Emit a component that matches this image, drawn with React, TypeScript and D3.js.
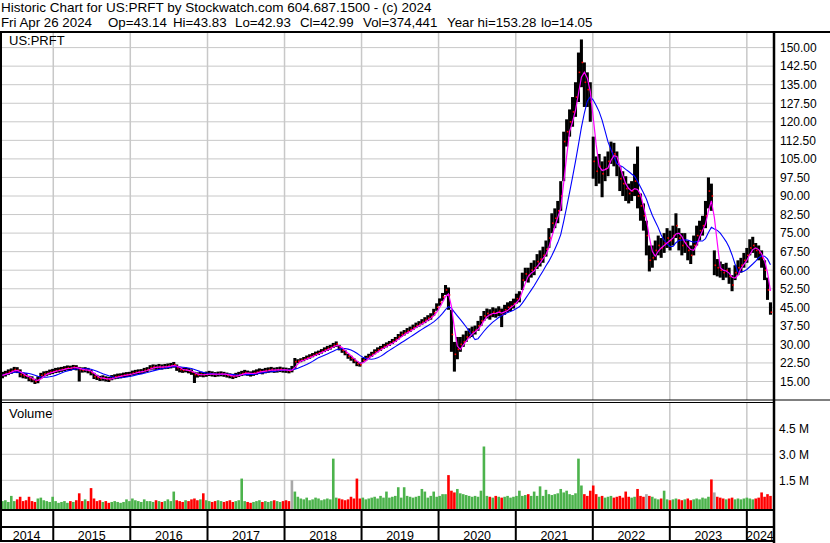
import React from 'react';
import * as d3 from 'd3';

// ---------- DATA (bi-weekly bars) ----------
const priceTicks = [15, 22.5, 30, 37.5, 45, 52.5, 60, 67.5, 75, 82.5, 90, 97.5, 105, 112.5, 120, 127.5, 135, 142.5, 150];
const volTicks = [1.5, 3.0, 4.5];
const years = [2014, 2015, 2016, 2017, 2018, 2019, 2020, 2021, 2022, 2023, 2024];

const closes = [
  17.5, 18.2, 18.8, 19.2, 19.8, 19.5, 17.8, 17.4, 17.2, 16.2,
  15.8, 15.0, 15.6, 17.4, 18.0, 18.3, 18.8, 19.0, 19.4, 19.6,
  19.9, 20.2, 20.5, 20.4, 20.8, 20.6, 19.8, 19.6, 19.8, 19.4,
  18.6, 17.0, 16.6, 16.2, 16.4, 16.0, 15.8, 16.5, 16.9, 17.1,
  17.3, 17.6, 17.8, 17.9, 18.4, 18.7, 18.9, 19.0, 19.5, 19.8,
  20.5, 20.9, 20.7, 21.0, 20.8, 21.0, 21.2, 21.4, 21.8, 20.6,
  19.8, 19.5, 19.7, 19.3, 18.8, 17.8, 17.6, 17.9, 17.7, 17.9,
  18.2, 18.0, 17.8, 18.0, 18.1, 17.9, 17.6, 17.3, 17.0, 17.4,
  17.8, 18.2, 18.6, 18.3, 18.0, 18.4, 18.8, 19.2, 19.0, 19.4,
  19.6, 19.8, 19.5, 19.7, 19.9, 19.6, 19.5, 19.3, 19.8, 23.0,
  23.2, 23.6, 24.0, 24.6, 25.1, 25.6, 26.2, 26.6, 27.2, 27.8,
  28.4, 28.8, 29.6, 30.2, 28.6, 27.6, 26.6, 25.2, 24.4, 23.4,
  22.2, 21.8, 23.6, 24.4, 25.2, 26.0, 27.0, 27.8, 28.4, 29.2,
  29.8, 30.4, 31.2, 32.0, 33.0, 34.0, 34.6, 35.4, 36.0, 36.8,
  37.6, 38.2, 39.0, 39.8, 40.6, 41.2, 42.8, 45.0, 47.0, 49.2,
  52.0, 50.0, 34.0, 26.0, 28.0, 30.0, 31.0, 33.0, 34.5, 35.0,
  35.8, 37.5, 39.5, 41.5, 42.5, 42.0, 43.0, 42.6, 43.4, 42.0,
  44.0, 45.0, 45.5, 46.5, 48.5, 49.5, 56.0, 58.5, 58.0, 60.0,
  61.0, 63.5, 64.5, 66.0, 68.5, 73.0, 79.0, 81.0, 84.0, 90.0,
  112.0, 116.0, 120.0, 124.0, 130.0, 140.0, 144.0, 136.0, 133.0, 128.0,
  104.0, 100.0, 102.0, 99.0, 101.0, 104.0, 108.0, 107.0, 103.0, 97.0,
  95.0, 93.0, 91.0, 92.0, 96.0, 90.0, 86.0, 82.0, 74.0, 64.0,
  65.0, 68.0, 70.0, 69.0, 71.0, 73.0, 72.0, 74.0, 78.0, 73.0,
  70.0, 71.0, 68.0, 66.0, 70.0, 74.0, 76.0, 78.0, 82.0, 92.0,
  90.0, 62.0, 61.0, 60.0, 59.0, 60.0, 57.5, 54.0, 59.0, 61.0,
  62.0, 64.0, 66.0, 69.0, 70.0, 68.0, 67.0, 65.0, 60.0, 52.0, 43.0,
];

const lows = [
  16.3, 17.0, 17.6, 18.1, 18.7, 18.4, 16.7, 16.3, 16.1, 15.1,
  14.7, 14.0, 14.3, 16.1, 16.9, 17.3, 17.7, 18.0, 18.4, 18.6,
  18.9, 19.2, 19.5, 19.4, 19.7, 19.5, 15.0, 18.6, 18.7, 18.3,
  17.5, 16.0, 15.6, 15.2, 15.3, 15.0, 14.8, 15.5, 15.9, 16.1,
  16.3, 16.6, 16.8, 16.9, 17.4, 17.7, 17.9, 18.0, 18.5, 18.8,
  19.5, 19.8, 19.7, 19.9, 19.8, 20.0, 20.1, 20.3, 20.6, 19.3,
  18.7, 18.5, 18.7, 18.3, 17.7, 14.4, 16.6, 16.9, 16.7, 16.9,
  17.2, 17.0, 16.8, 17.0, 17.1, 16.9, 16.6, 16.3, 16.0, 16.4,
  16.8, 17.2, 17.5, 17.3, 17.0, 17.3, 17.7, 18.1, 17.9, 18.3,
  18.5, 18.7, 18.5, 18.6, 18.8, 18.6, 18.5, 18.3, 18.7, 20.2,
  22.4, 22.8, 23.2, 23.8, 24.2, 24.8, 25.3, 25.7, 26.3, 26.9,
  27.4, 27.9, 28.6, 29.0, 27.6, 26.6, 25.6, 24.2, 23.4, 22.4,
  21.2, 21.0, 22.6, 23.4, 24.2, 25.0, 26.0, 26.8, 27.4, 28.2,
  28.8, 29.4, 30.2, 31.0, 32.0, 33.0, 33.6, 34.4, 35.0, 35.8,
  36.6, 37.2, 38.0, 38.6, 39.4, 40.0, 41.6, 43.6, 45.6, 47.6,
  50.0, 44.0, 27.0, 19.0, 24.0, 27.0, 29.0, 31.0, 32.5, 33.0,
  34.0, 35.5, 37.5, 39.5, 40.5, 40.0, 41.0, 40.8, 41.4, 37.0,
  42.0, 43.0, 43.5, 44.5, 46.5, 47.0, 52.0, 55.5, 55.0, 57.0,
  58.0, 60.5, 61.5, 63.0, 65.5, 69.0, 75.0, 77.0, 79.0, 84.0,
  96.0, 110.0, 114.0, 118.0, 122.0, 128.0, 134.0, 126.0, 126.0, 120.0,
  97.0, 94.0, 95.0, 89.5, 96.0, 98.0, 103.0, 102.0, 98.0, 92.0,
  90.0, 88.0, 87.0, 88.0, 90.0, 85.0, 80.0, 76.0, 66.0, 59.5,
  61.0, 64.0, 66.0, 65.0, 67.0, 69.0, 68.0, 70.0, 73.0, 68.0,
  66.0, 67.0, 64.0, 62.5, 66.0, 70.0, 72.0, 74.0, 77.0, 85.0,
  84.0, 58.0, 57.5, 57.0, 56.0, 57.0, 54.5, 51.5, 56.0, 58.0,
  59.0, 61.0, 63.0, 66.0, 67.0, 65.0, 64.0, 61.0, 56.0, 48.0, 42.0,
];

const highs = [
  18.9, 19.3, 19.9, 20.3, 20.9, 20.8, 19.9, 18.6, 18.3, 17.3,
  17.1, 16.1, 17.1, 18.5, 19.1, 19.3, 19.8, 20.1, 20.5, 20.7,
  20.9, 21.2, 21.5, 21.4, 21.7, 21.6, 20.9, 20.7, 20.8, 20.5,
  19.7, 18.5, 17.7, 17.3, 17.5, 17.1, 16.9, 17.6, 17.9, 18.2,
  18.3, 18.6, 18.8, 18.9, 19.4, 19.7, 19.9, 20.0, 20.5, 20.8,
  21.6, 21.9, 21.8, 22.1, 21.9, 22.1, 22.3, 22.5, 22.9, 21.9,
  20.9, 20.6, 20.7, 20.4, 19.9, 18.9, 18.7, 18.9, 18.8, 19.0,
  19.3, 19.1, 18.8, 19.0, 19.1, 18.9, 18.6, 18.3, 18.1, 18.5,
  18.9, 19.3, 19.7, 19.4, 19.1, 19.5, 19.9, 20.3, 20.1, 20.5,
  20.7, 20.9, 20.6, 20.8, 21.0, 20.7, 20.6, 20.4, 21.3, 24.5,
  24.0, 24.4, 24.9, 25.5, 26.0, 26.5, 27.1, 27.5, 28.1, 28.8,
  29.4, 29.8, 30.6, 31.2, 29.8, 28.6, 27.6, 26.2, 25.4, 24.4,
  23.2, 22.8, 24.6, 25.4, 26.2, 27.0, 28.0, 28.8, 29.4, 30.2,
  30.8, 31.4, 32.2, 33.0, 34.2, 35.2, 35.8, 36.6, 37.2, 38.0,
  38.8, 39.4, 40.2, 41.0, 41.8, 42.6, 44.4, 46.6, 48.6, 50.8,
  54.0, 53.0, 44.0, 31.0, 33.0, 33.0, 34.0, 35.5, 36.5, 37.2,
  37.6, 39.5, 41.5, 43.5, 44.5, 44.2, 45.0, 44.6, 45.4, 44.5,
  46.0, 47.0, 47.5, 48.5, 50.5, 51.5, 59.0, 61.0, 61.0, 63.0,
  64.0, 66.5, 68.0, 69.5, 72.0, 77.0, 83.0, 85.0, 88.0, 96.0,
  116.0, 121.0, 125.0, 130.0, 136.0, 148.0, 153.3, 144.0, 140.0, 136.0,
  114.0, 106.0, 107.0, 104.0, 106.0, 108.0, 112.0, 111.5, 108.0, 102.0,
  100.0, 98.0, 95.0, 96.0, 103.0, 110.0, 91.0, 87.0, 80.0, 70.0,
  70.0, 72.0, 74.0, 73.0, 75.0, 77.0, 76.0, 78.0, 83.0, 77.0,
  75.0, 75.0, 72.0, 70.0, 74.0, 78.0, 80.0, 82.0, 88.0, 97.5,
  95.0, 68.0, 64.5, 63.5, 62.5, 63.0, 61.0, 58.0, 62.0, 64.0,
  65.0, 67.0, 69.0, 72.5, 73.5, 71.0, 70.0, 68.0, 64.0, 57.0, 47.0,
];

// volume in millions of shares
const volumes = [
  0.30, 0.35, 0.25, 0.60, 0.30, 0.40, 0.55, 0.30, 0.35, 0.55,
  0.30, 0.25, 0.45, 0.50, 0.35, 0.30, 0.25, 0.55, 0.30, 0.20,
  0.25, 0.30, 0.20, 0.30, 0.25, 0.35, 0.75, 0.30, 0.40, 0.30,
  1.05, 0.45, 0.30, 0.35, 0.25, 0.30, 0.20, 0.25, 0.30, 0.25,
  0.20, 0.25, 0.40, 0.30, 0.45, 0.35, 0.30, 0.25, 0.40, 0.30,
  0.30, 0.25, 0.35, 0.30, 0.25, 0.30, 0.40, 0.30, 0.85, 0.35,
  0.30, 0.25, 0.35, 0.30, 0.40, 0.45, 0.35, 0.40, 0.75, 0.35,
  0.30, 0.25, 0.30, 0.35, 0.30, 0.25, 0.30, 0.35, 0.25, 0.30,
  0.35, 1.60, 0.30, 0.25, 0.20, 0.25, 0.30, 0.35, 0.25, 0.30,
  0.25, 0.30, 0.35, 0.30, 0.25, 0.30, 0.35, 0.30, 1.50, 0.85,
  0.55, 0.45, 0.40, 0.50, 0.35, 0.40, 0.50, 0.45, 0.35, 0.40,
  0.45, 0.40, 2.75, 0.50, 0.45, 0.40, 0.35, 0.40, 0.55, 0.45,
  1.60, 0.45, 0.50, 0.40, 0.45, 0.50, 0.55, 0.45, 0.60, 0.50,
  0.85, 0.50, 0.55, 0.60, 1.10, 0.50, 1.10, 0.60, 0.55, 0.50,
  0.55, 0.60, 1.00, 0.85, 0.50, 0.60, 0.85, 0.55, 0.60, 0.70,
  0.70, 1.80, 0.90, 0.80, 1.00, 0.75, 0.70, 0.65, 0.60, 0.55,
  0.60, 0.55, 0.90, 3.45, 0.60, 0.55, 0.50, 0.60, 0.55, 0.50,
  0.55, 0.60, 0.50, 0.55, 0.60, 0.90, 0.60, 0.65, 0.70, 0.60,
  0.85, 0.60, 1.15, 0.60, 0.95, 0.70, 0.65, 0.70, 0.75, 1.00,
  0.80, 0.90, 0.70, 0.65, 0.75, 2.75, 1.20, 0.70, 0.60, 0.90,
  1.20, 0.70, 0.55, 0.60, 0.50, 0.55, 0.60, 0.50, 0.55, 0.60,
  0.50, 0.85, 0.55, 0.50, 0.55, 1.00, 0.60, 0.55, 0.70, 0.60,
  0.55, 0.45, 0.40, 0.45, 0.90, 0.40, 0.35, 0.40, 0.45, 0.40,
  0.35, 0.40, 0.45, 0.35, 0.40, 0.45, 0.40, 0.50, 0.45, 0.55,
  1.55, 0.80, 0.55, 0.50, 0.45, 0.40, 0.45, 0.50, 0.40, 0.45,
  0.40, 0.45, 0.50, 0.45, 0.40, 0.45, 0.50, 0.80, 0.55, 0.70, 0.60,
];

// bars whose close was unchanged (drawn grey)
const flatBars = [98, 218, 241];

const FONT = "'Liberation Sans', Arial, Helvetica, sans-serif";

export default function App() {
  const W = 830;
  const H = 543;
  const left = 2;
  const right = 773;
  const priceTop = 33;
  const priceBottom = 400;
  const volTop = 402.5;
  const volBottom = 509;

  const x = d3
    .scaleUtc()
    .domain([new Date(Date.UTC(2014, 4, 3)), new Date(Date.UTC(2024, 4, 4))])
    .range([left, right]);
  const dates = closes.map((_, i) => d3.utcDay.offset(new Date(Date.UTC(2014, 4, 5)), i * 14));
  const yP = d3.scaleLinear().domain([15, 150]).range([381.5, 47.6]);
  const yV = d3.scaleLinear().domain([0, 4.5]).range([506.3, 428.3]);

  const movingAvg = (n: number) =>
    closes.map((_, i) => d3.mean(closes.slice(Math.max(0, i - n + 1), i + 1)) as number);
  const maFast = movingAvg(3);
  const maSlow = movingAvg(9);
  const line = d3
    .line<number>()
    .x((_, i) => x(dates[i]))
    .y((d) => yP(d));

  const yearLines = years.slice(1).map((yr) => x(new Date(Date.UTC(yr, 0, 1))));
  const yearBounds = [0, ...yearLines, right];

  const step = x(dates[1]) - x(dates[0]);
  const bw = step + 0.1;

  const header2 = [
    { t: 'Fri Apr 26 2024', x: 1 },
    { t: 'Op=43.14', x: 108 },
    { t: 'Hi=43.83', x: 173 },
    { t: 'Lo=42.93', x: 235 },
    { t: 'Cl=42.99', x: 300 },
    { t: 'Vol=374,441', x: 363 },
    { t: 'Year hi=153.28', x: 447 },
    { t: 'lo=14.05', x: 541 },
  ];

  return (
    <svg
      width={W}
      height={H}
      style={{ position: 'fixed', left: 0, top: 0, background: '#fff' }}
      fontFamily={FONT}
    >
      <defs>
        <clipPath id="pclip">
          <rect x={left} y={priceTop} width={right - left} height={priceBottom - priceTop} />
        </clipPath>
      </defs>
      <rect x={0} y={0} width={W} height={H} fill="#fff" />

      {/* header */}
      <text x={1} y={12} fontSize={13.5} fill="#000">
        Historic Chart for US:PRFT by Stockwatch.com 604.687.1500 - (c) 2024
      </text>
      {header2.map((h) => (
        <text key={h.t} x={h.x} y={27} fontSize={13.3} fill="#000">
          {h.t}
        </text>
      ))}

      {/* grid: price */}
      {priceTicks.map((t) => (
        <line key={'pg' + t} x1={left} x2={right} y1={yP(t)} y2={yP(t)} stroke="#c8c8c8" strokeWidth={1} />
      ))}
      {/* grid: volume */}
      {volTicks.map((t) => (
        <line key={'vg' + t} x1={left} x2={right} y1={yV(t)} y2={yV(t)} stroke="#c8c8c8" strokeWidth={1} />
      ))}
      {/* grid: years */}
      {yearLines.map((xx, i) => (
        <g key={'yg' + i}>
          <line x1={xx} x2={xx} y1={priceTop} y2={priceBottom} stroke="#c8c8c8" strokeWidth={1.5} />
          <line x1={xx} x2={xx} y1={volTop} y2={volBottom} stroke="#c8c8c8" strokeWidth={1.5} />
        </g>
      ))}

      {/* price bars */}
      <g clipPath="url(#pclip)">
        {closes.map((c, i) => {
          const xx = x(dates[i]);
          const top = yP(highs[i]);
          const bot = yP(lows[i]);
          return (
            <rect key={'b' + i} x={xx - bw / 2} y={top} width={bw} height={Math.max(1, bot - top)} fill="#000" />
          );
        })}
        {closes.map((c, i) => (
          <rect key={'c' + i} x={x(dates[i]) + 0.2} y={yP(c) - 0.8} width={1.6} height={1.6} fill="#ff0000" />
        ))}
        <path d={line(maSlow) || ''} fill="none" stroke="#0000ff" strokeWidth={1.1} />
        <path d={line(maFast) || ''} fill="none" stroke="#ff00ff" strokeWidth={1.2} />
      </g>

      {/* volume bars */}
      {volumes.map((v, i) => {
        const xx = x(dates[i]);
        const col = flatBars.includes(i)
          ? '#a8a8a8'
          : i > 0 && closes[i] < closes[i - 1]
          ? '#ff0000'
          : '#4cb34c';
        return <rect key={'v' + i} x={xx - 1.3} y={yV(v)} width={2.6} height={volBottom - yV(v)} fill={col} />;
      })}

      {/* labels inside panels */}
      <text x={9} y={45} fontSize={13} fill="#000">US:PRFT</text>
      <text x={9} y={418} fontSize={13} fill="#000">Volume</text>

      {/* price axis labels */}
      {priceTicks.map((t) => (
        <text key={'pl' + t} x={780} y={yP(t) + 4.3} fontSize={12} fill="#000">
          {t.toFixed(2)}
        </text>
      ))}
      {/* volume axis labels */}
      {volTicks.map((t) => (
        <text key={'vl' + t} x={779} y={yV(t) + 4.3} fontSize={12} fill="#000">
          {t.toFixed(1) + ' M'}
        </text>
      ))}

      {/* frame lines */}
      <line x1={0} x2={W} y1={32} y2={32} stroke="#000" strokeWidth={2} />
      <line x1={0} x2={right} y1={400} y2={400} stroke="#000" strokeWidth={1} />
      <line x1={0} x2={right} y1={402.5} y2={402.5} stroke="#000" strokeWidth={1} />
      <line x1={right} x2={W} y1={400} y2={400} stroke="#000" strokeWidth={1} />
      <line x1={0} x2={right} y1={510} y2={510} stroke="#000" strokeWidth={2} />
      <line x1={0} x2={right} y1={527} y2={527} stroke="#000" strokeWidth={2} />
      <line x1={0} x2={right} y1={541} y2={541} stroke="#000" strokeWidth={2} />
      <line x1={1} x2={1} y1={32} y2={542} stroke="#000" strokeWidth={2} />
      <line x1={774} x2={774} y1={32} y2={H} stroke="#000" strokeWidth={2.5} />
      {yearLines.map((xx, i) => (
        <line key={'yd' + i} x1={xx} x2={xx} y1={510} y2={541} stroke="#000" strokeWidth={2} />
      ))}

      {/* year labels */}
      {years.map((yr, i) => (
        <text
          key={'yl' + yr}
          x={(yearBounds[i] + yearBounds[i + 1]) / 2}
          y={539.5}
          fontSize={12.5}
          textAnchor="middle"
          fill="#000"
        >
          {yr}
        </text>
      ))}
    </svg>
  );
}
